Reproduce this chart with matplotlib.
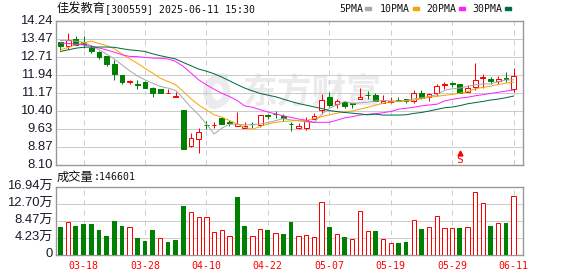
import matplotlib
matplotlib.use("Agg")
import matplotlib.pyplot as plt
from matplotlib.patches import Wedge, Rectangle

W, H = 578, 276
CJK = "Noto Sans CJK SC"
MONO = "DejaVu Sans Mono"
SANS = "Liberation Sans"
RED = "#ff0000"
GREEN = "#008000"
GRID = "#cccccc"
FRAME = "#999999"
THIN = 0.72

# daily bars
opens = [13.36, 13.16, 13.47, 13.34, 13.11, 12.91, 12.74, 12.40, 11.93, 11.62,
         11.55, 11.63, 11.40, 11.35, 11.15, 10.99, 10.45, 8.90, 9.22, 9.82,
         9.80, 10.11, 9.93, 9.78, 9.69, 9.85, 9.81, 10.22, 10.28, 10.20,
         9.86, 9.68, 9.68, 10.08, 10.44, 10.99, 10.68, 10.78, 10.74, 10.93,
         11.10, 11.08, 10.75, 10.80, 10.86, 10.90, 10.83, 11.18, 11.02, 11.15,
         11.50, 11.58, 11.55, 11.23, 11.42, 11.79, 11.77, 11.70, 11.80, 11.32]
highs = [13.36, 13.74, 13.61, 13.61, 13.20, 12.94, 12.76, 12.59, 11.95, 11.73,
         11.72, 11.69, 11.43, 11.36, 11.33, 11.23, 10.45, 9.45, 9.67, 9.99,
         9.94, 10.12, 10.01, 10.36, 9.92, 9.94, 10.24, 10.28, 10.39, 10.28,
         9.92, 9.89, 10.14, 10.32, 11.12, 11.20, 10.93, 10.79, 10.76, 11.39,
         11.26, 11.18, 11.09, 10.99, 10.99, 10.91, 11.30, 11.30, 11.16, 11.56,
         11.65, 11.62, 11.55, 11.50, 12.44, 11.98, 11.85, 11.90, 12.06, 12.24]
lows = [12.99, 13.04, 13.20, 13.09, 12.86, 12.63, 12.34, 11.73, 11.56, 11.57,
        11.35, 11.39, 10.98, 11.18, 11.15, 10.98, 8.78, 8.88, 8.63, 9.65,
        9.68, 9.84, 9.75, 9.77, 9.68, 9.67, 9.74, 10.05, 10.12, 9.99,
        9.57, 9.64, 9.59, 10.06, 10.29, 10.59, 10.52, 10.51, 10.55, 10.92,
        10.92, 10.82, 10.75, 10.76, 10.81, 10.75, 10.75, 10.93, 10.83, 11.05,
        11.35, 11.43, 11.18, 11.22, 11.30, 11.38, 11.55, 11.55, 11.65, 11.23]
closes = [13.19, 13.43, 13.23, 13.26, 12.94, 12.72, 12.39, 12.00, 11.65, 11.69,
          11.53, 11.40, 11.19, 11.19, 11.18, 11.06, 8.78, 9.25, 9.49, 9.80,
          9.82, 9.85, 9.91, 9.85, 9.76, 9.83, 10.22, 10.20, 10.26, 10.12,
          9.84, 9.76, 9.97, 10.18, 10.86, 10.65, 10.82, 10.63, 10.72, 10.99,
          11.08, 10.85, 10.82, 10.82, 10.84, 10.83, 11.16, 10.96, 11.12, 11.46,
          11.56, 11.56, 11.18, 11.40, 11.72, 11.85, 11.69, 11.76, 11.78, 11.89]

ma5 = [13.41, 13.40, 13.38, 13.33, 13.19, 13.01, 12.83, 12.62, 12.37, 12.12,
       11.90, 11.73, 11.59, 11.45, 11.38, 11.28, 10.93, 10.56, 10.24, 9.85,
       9.42, 9.67, 9.84, 9.84, 9.81, 9.82, 9.85, 9.91, 9.99, 10.08,
       10.02, 9.99, 9.94, 9.91, 10.26, 10.52, 10.66, 10.81, 10.73, 10.75,
       10.78, 10.83, 10.85, 10.83, 10.82, 10.85, 10.92, 10.96, 11.02, 11.10,
       11.28, 11.35, 11.38, 11.45, 11.52, 11.55, 11.56, 11.65, 11.73, 11.73]
ma10 = [13.01, 13.11, 13.22, 13.31, 13.38, 13.28, 13.19, 13.06, 12.83, 12.63,
        12.44, 12.22, 12.02, 11.80, 11.66, 11.52, 11.23, 10.92, 10.66, 10.45,
        10.24, 10.14, 10.00, 9.85, 9.71, 9.62, 9.74, 9.85, 9.92, 9.95,
        9.98, 9.99, 9.99, 10.08, 10.16, 10.24, 10.31, 10.36, 10.41, 10.48,
        10.56, 10.65, 10.73, 10.79, 10.81, 10.83, 10.86, 10.93, 10.99, 11.03,
        11.07, 11.11, 11.16, 11.23, 11.35, 11.41, 11.46, 11.53, 11.59, 11.63]
ma20 = [13.30, 13.28, 13.25, 13.22, 13.16, 13.09, 13.01, 12.91, 12.80, 12.73,
        12.72, 12.69, 12.66, 12.65, 12.62, 12.52, 12.30, 12.02, 11.73, 11.52,
        11.33, 11.16, 11.02, 10.85, 10.62, 10.56, 10.46, 10.36, 10.28, 10.20,
        10.13, 10.06, 10.01, 9.92, 9.92, 9.92, 10.01, 10.11, 10.16, 10.23,
        10.26, 10.29, 10.33, 10.38, 10.48, 10.52, 10.56, 10.62, 10.66, 10.69,
        10.83, 10.90, 10.95, 10.99, 11.05, 11.10, 11.15, 11.20, 11.25, 11.30]
ma30 = [12.94, 13.01, 13.08, 13.12, 13.13, 13.13, 13.13, 13.12, 13.06, 13.01,
        12.98, 12.94, 12.84, 12.76, 12.69, 12.62, 12.47, 12.33, 12.19, 12.10,
        11.99, 11.85, 11.69, 11.53, 11.38, 11.26, 11.15, 11.08, 11.01, 10.91,
        10.81, 10.72, 10.65, 10.58, 10.51, 10.42, 10.38, 10.34, 10.31, 10.28,
        10.24, 10.27, 10.23, 10.23, 10.23, 10.24, 10.30, 10.34, 10.40, 10.47,
        10.54, 10.57, 10.63, 10.71, 10.76, 10.81, 10.87, 10.91, 10.97, 11.04]

volumes = [6.94, 8.34, 7.19, 7.68, 7.68, 6.20, 4.71, 8.43, 7.19, 6.86,
           4.21, 3.47, 6.20, 4.13, 3.22, 3.72, 12.14, 10.82, 9.58, 9.58,
           5.62, 6.11, 4.63, 14.37, 7.19, 4.63, 6.36, 6.20, 5.37, 5.20,
           8.18, 4.63, 4.87, 4.38, 13.30, 6.94, 5.12, 4.46, 3.88, 11.07,
           5.86, 5.95, 3.88, 2.89, 2.97, 3.22, 8.84, 6.44, 6.86, 9.83,
           6.61, 6.61, 6.69, 6.86, 15.78, 13.05, 7.19, 7.85, 7.93, 14.79]
vol_red = [1, 9, 13, 17, 18, 19, 20, 21, 22, 25, 26, 28, 31, 32, 33, 34, 36, 38,
           39, 40, 42, 43, 46, 48, 49, 50, 51, 53, 54, 55, 57, 59]

price_ticks = [8.10, 8.87, 9.63, 10.40, 11.17, 11.94, 12.71, 13.47, 14.24]
vol_ticks = [4.23, 8.47, 12.70, 16.94]
date_pos = [3, 11, 19, 27, 35, 43, 51, 59]
date_labels = ["03-18", "03-28", "04-10", "04-22", "05-07", "05-19", "05-29", "06-11"]

ma_names = ["5PMA", "10PMA", "20PMA", "30PMA"]
ma_colors = ["#a8a8a8", "#f5a50a", "#ff22ff", "#006b3c"]


def add_axes_px(x0, y0, x1, y1):
    return fig.add_axes([x0 / W, 1 - y1 / H, (x1 - x0) / W, (y1 - y0) / H])


def style_axes(ax):
    ax.set_facecolor("none")
    ax.set_zorder(2)
    ax.set_xlim(-0.65, 60.16)
    ax.set_xticks([])
    ax.set_yticks([])
    for s in ax.spines.values():
        s.set_color(FRAME)
        s.set_linewidth(1.0)
    for p in date_pos:
        ax.axvline(p, color=GRID, lw=THIN, ls=(0, (5, 5)), zorder=1)


fig = plt.figure(figsize=(W / 100, H / 100), dpi=100, facecolor="white")

# page layer in pixel coordinates: watermark and all the labels
page = fig.add_axes([0, 0, 1, 1])
page.set_xlim(0, W)
page.set_ylim(H, 0)
page.axis("off")

wm = "#ebebee"
page.add_patch(Wedge((222, 92), 18, 110, 290, width=7, color=wm))
page.add_patch(Wedge((214, 92), 16, -70, 110, width=6, color=wm))
page.text(312, 92, "东方财富", family=CJK, fontsize=25, weight="bold", color=wm,
          ha="center", va="center")

page.text(57, 9, "佳发教育", family=CJK, fontsize=8.8, color="#111111", va="center")
page.text(105, 9, "[300559] 2025-06-11 15:30", family=MONO, fontsize=7.1,
          color="#111111", va="center")

legend_x = [339, 380, 426, 472]
swatch_x = [365, 413, 459, 505]
for name, c, tx, sx in zip(ma_names, ma_colors, legend_x, swatch_x):
    page.text(tx, 9, name, family=MONO, fontsize=7.1, color="#111111", va="center")
    page.add_patch(Rectangle((sx, 7), 6, 3, color=c))

page.text(57, 177, "成交量", family=CJK, fontsize=8.8, color="#111111", va="center")
page.text(94, 177, ":146601", family=MONO, fontsize=7.1, color="#111111", va="center")

# price panel
ax = add_axes_px(55.5, 21, 522.5, 165)
style_axes(ax)
ax.set_ylim(8.10, 14.24)
for t in price_ticks[1:-1]:
    ax.axhline(t, color=GRID, lw=THIN, zorder=1)

for i in range(len(closes)):
    up = closes[i] > opens[i]
    c = RED if up else GREEN
    ax.vlines(i, lows[i], highs[i], color=c, lw=THIN, zorder=3)
    bottom = min(opens[i], closes[i])
    height = abs(closes[i] - opens[i])
    ax.bar(i, height, bottom=bottom, width=0.62, facecolor="white" if up else GREEN,
           edgecolor=c, linewidth=THIN, zorder=4)

for vals, c in zip([ma5, ma10, ma20, ma30], ma_colors):
    ax.plot(range(len(vals)), vals, color=c, lw=THIN, zorder=5)

# sell marker
ax.plot([52], [8.62], marker="^", ms=3.5, color=RED, zorder=6)
ax.text(52, 8.12, "S", family=MONO, fontsize=8, color=RED, ha="center", va="bottom", zorder=6)

# volume panel
vax = add_axes_px(55.5, 187, 522.5, 255)
style_axes(vax)
vax.set_ylim(0, 16.94)
for t in vol_ticks[:-1]:
    vax.axhline(t, color=GRID, lw=THIN, zorder=1)
for i, v in enumerate(volumes):
    if i in vol_red:
        vax.bar(i, v, width=0.55, facecolor="white", edgecolor=RED, linewidth=THIN, zorder=3)
    else:
        vax.bar(i, v, width=0.62, color=GREEN, linewidth=0, zorder=3)

# axis labels
for t in price_ticks:
    y = 165 - (t - 8.10) / 6.14 * 144
    page.text(53, y, f"{t:.2f}", family=SANS, fontsize=9.4, color="#1a1a2a", ha="right", va="center")
for t in vol_ticks:
    y = 255 - t / 16.94 * 68
    page.text(53, y, f"{t:.2f}万", family=[SANS, CJK], fontsize=9.4, color="#1a1a2a",
              ha="right", va="center")
page.text(53, 254, "0", family=SANS, fontsize=9.4, color="#1a1a2a", ha="right", va="center")

for p, label in zip(date_pos, date_labels):
    x = 60.5 + 7.68 * p
    page.text(x, 266, label, family=MONO, fontsize=7.1, color=RED, ha="center", va="center")

fig.savefig("out.png", dpi=100)
